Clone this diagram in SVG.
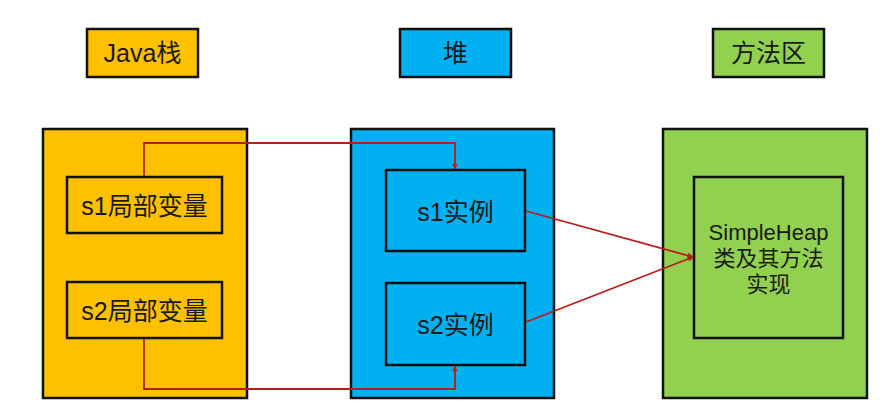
<svg xmlns="http://www.w3.org/2000/svg" width="887" height="419" viewBox="0 0 887 419">
  <style>
    .box { stroke: #111; stroke-width: 2.5; }
    .stack { fill: #FFC000; }
    .heap { fill: #00B0F0; }
    .method { fill: #92D050; }
    .lbl { font-family: "Liberation Sans", "Noto Sans CJK SC", sans-serif; font-size: 25px; fill: #1a1a1a; text-anchor: middle; dominant-baseline: central; }
    .sm { font-size: 22px; }
    .link { fill: none; stroke: #B81C1C; stroke-width: 1.8; }
  </style>
  <defs>
    <marker id="arrow" viewBox="0 0 10 10" refX="9" refY="5" markerWidth="6" markerHeight="6" orient="auto" markerUnits="userSpaceOnUse">
      <path d="M0,0 L10,5 L0,10 z" fill="#B81C1C"/>
    </marker>
  </defs>
  <rect width="887" height="419" fill="#fff"/>

  <!-- column headers -->
  <g id="hdr-stack"><rect class="box stack" x="87" y="29" width="111" height="48"/><text class="lbl" x="142.5" y="53">Java栈</text></g>
  <g id="hdr-heap"><rect class="box heap" x="400" y="29" width="111" height="48"/><text class="lbl" x="455.5" y="53">堆</text></g>
  <g id="hdr-method"><rect class="box method" x="713" y="29" width="111" height="48"/><text class="lbl" x="768.5" y="53">方法区</text></g>

  <!-- region containers -->
  <g id="stack"><rect class="box stack" x="43" y="129" width="204" height="269"/></g>
  <g id="heap"><rect class="box heap" x="351" y="129" width="203" height="269"/></g>
  <g id="method-area"><rect class="box method" x="663" y="129" width="204" height="269"/></g>

  <!-- inner nodes -->
  <g id="s1-var"><rect class="box stack" x="67" y="177" width="155" height="56"/><text class="lbl" x="144.5" y="206">s1局部变量</text></g>
  <g id="s2-var"><rect class="box stack" x="67" y="282" width="155" height="56"/><text class="lbl" x="144.5" y="311">s2局部变量</text></g>
  <g id="s1-inst"><rect class="box heap" x="386" y="170" width="139" height="81"/><text class="lbl" x="455.5" y="212">s1实例</text></g>
  <g id="s2-inst"><rect class="box heap" x="386" y="283" width="139" height="82"/><text class="lbl" x="455.5" y="325">s2实例</text></g>
  <g id="class-def"><rect class="box method" x="694" y="177" width="149" height="161"/>
    <text class="lbl sm" x="768.5" y="232">SimpleHeap</text>
    <text class="lbl sm" x="768.5" y="258">类及其方法</text>
    <text class="lbl sm" x="768.5" y="284">实现</text>
  </g>

  <!-- references -->
  <g id="connectors">
    <path class="link" d="M144,176 V143 H455 V169" marker-end="url(#arrow)"/>
    <path class="link" d="M144,339 V389 H455 V366" marker-end="url(#arrow)"/>
    <path class="link" d="M526,211 L693,257" marker-end="url(#arrow)"/>
    <path class="link" d="M526,322 L693,257" marker-end="url(#arrow)"/>
  </g>
</svg>
